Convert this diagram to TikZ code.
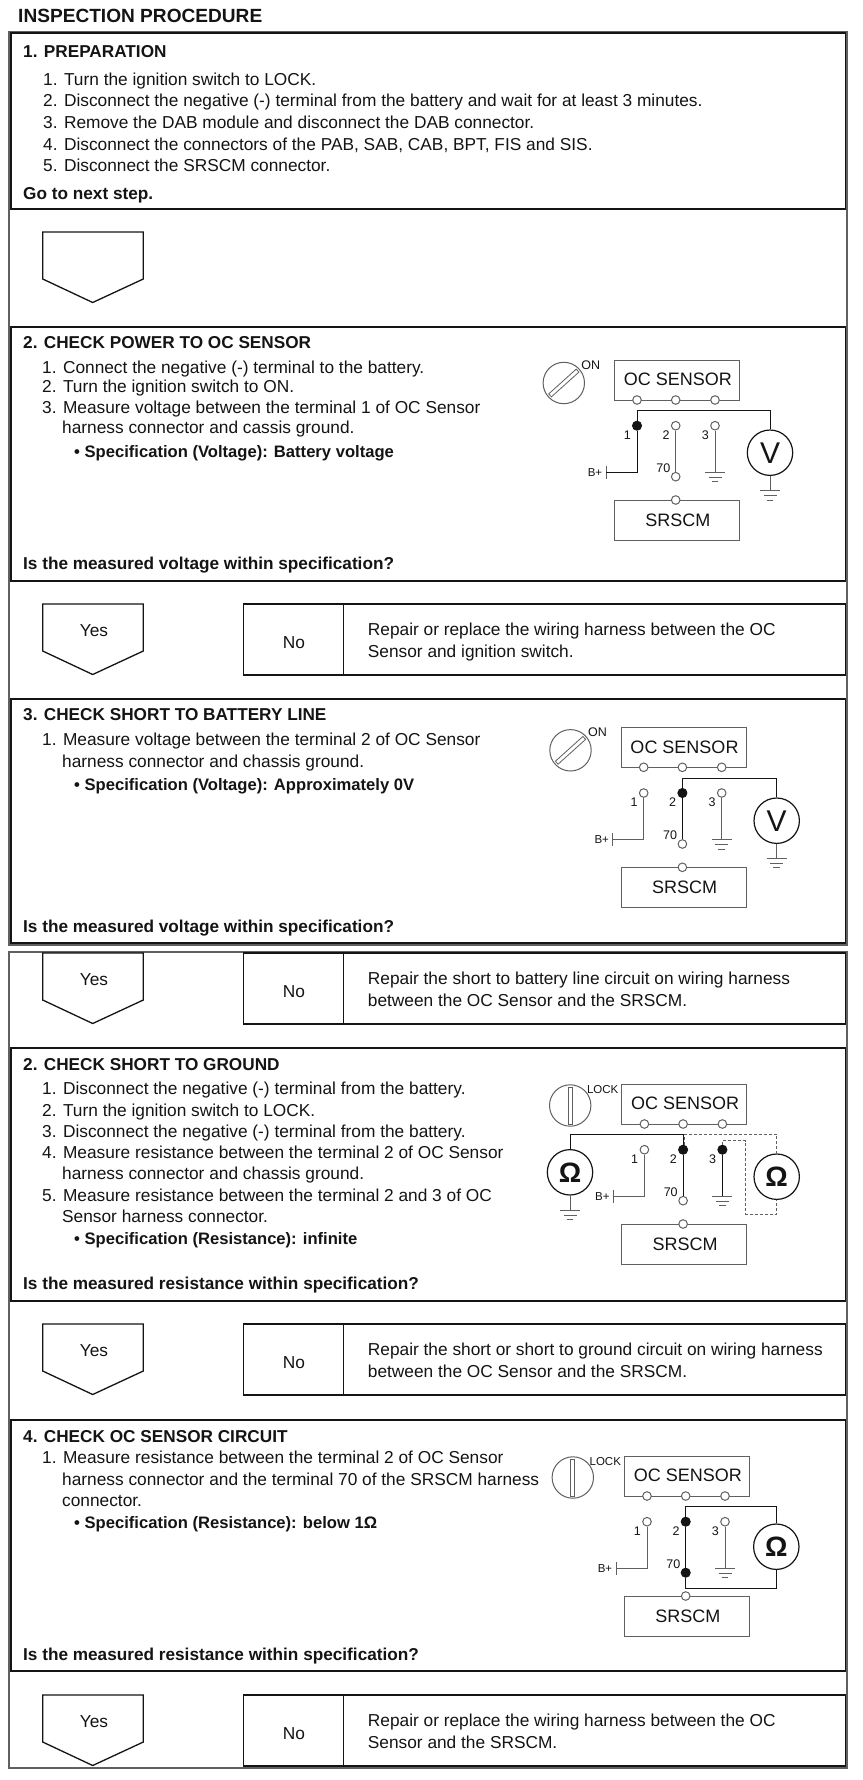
\documentclass[tikz,border=0pt]{standalone}
\usepackage{fontspec}
\setmainfont{Liberation Sans}
\usetikzlibrary{fit}
\definecolor{ink}{HTML}{141414}
\definecolor{wiregray}{HTML}{606060}
\tikzset{
  txt/.style={inner sep=0pt,anchor=base west,text=ink,font=\fontsize{17.3}{19}\selectfont},
  btxt/.style={txt,font=\fontsize{17.2}{19}\bfseries\selectfont},
  spectxt/.style={txt,font=\fontsize{16.6}{19}\bfseries\selectfont},
  ctxt/.style={inner sep=0pt,text=ink,font=\fontsize{17.3}{19}\selectfont},
  frameline/.style={draw=wiregray,line width=1.3pt},
  secbox/.style={draw=ink,line width=1.8pt},
  arrowbox/.style={draw=ink,line width=1.3pt,line join=miter},
  nobox/.style={draw=ink,line width=1.6pt},
  wire/.style={draw=wiregray,line width=1pt},
  live/.style={draw=ink,line width=1pt},
  probe/.style={draw=wiregray,line width=.8pt,densely dashed},
  devbox/.style={draw=wiregray,line width=1pt},
  devtxt/.style={inner sep=0pt,text=ink,font=\fontsize{18}{20}\selectfont},
  small/.style={inner sep=0pt,text=ink,font=\fontsize{12.5}{14}\selectfont},
  openterm/.style={circle,draw=wiregray,fill=white,line width=1pt,inner sep=0pt,minimum size=8.6pt},
  fillterm/.style={circle,draw=ink,fill=ink,line width=1pt,inner sep=0pt,minimum size=9pt},
  meter/.style={circle,draw=ink,fill=white,line width=1.2pt,inner sep=0pt,minimum size=45.4pt,text=ink,font=\fontsize{30}{32}\selectfont},
  ohm/.style={meter,font=\fontsize{28}{32}\bfseries\selectfont},
  switchbody/.style={circle,draw=wiregray,line width=1pt,inner sep=0pt,minimum size=41.4pt},
  slot/.style={rectangle,draw=wiregray,line width=.8pt,inner sep=0pt,minimum width=37pt,minimum height=4pt},
}
% #1 name, #2 #3 top-left, #4 #5 bottom-right
\newcommand\RectNode[6][]{%
  \coordinate (#2-a) at (#3,#4); \coordinate (#2-b) at (#5,#6);
  \node[fit=(#2-a)(#2-b),inner sep=0pt,#1] (#2) {};}
\newcommand\Txt[4]{\node[txt] (#1) at (#2,#3) {#4};}
\newcommand\Btxt[4]{\node[btxt] (#1) at (#2,#3) {#4};}
\newcommand\Stxt[4]{\node[spectxt] (#1) at (#2,#3) {#4};}
% yes pentagon: name, top y, text
\newcommand\Arrow[3]{%
  \draw[arrowbox] (42.7,#2) -- (143.3,#2) -- (143.3,#2+47) -- (92.7,#2+70.5) -- (42.7,#2+47) -- cycle;
  \node[ctxt] (#1) at (94,#2+27) {#3};}
% no box: name, top y, bottom y, line 1, line 2
\newcommand\NoBox[5]{%
  \RectNode[nobox]{#1-box}{243.3}{#2}{845.5}{#3}
  \coordinate (#1-dt) at (343.3,#2); \coordinate (#1-db) at (343.3,#3);
  \draw[nobox] (#1-dt) -- (#1-db);
  \node[ctxt] (#1-no) at (294,#2+38.7) {No};
  \node[txt] (#1-l1) at (367.7,#2+31) {#4};
  \node[txt] (#1-l2) at (367.7,#2+53) {#5};}
\newcommand\Gnd[1]{%
  \coordinate (#1-l) at ([xshift=-10pt]#1); \coordinate (#1-r) at ([xshift=10pt]#1);
  \draw[wire] (#1-l) -- (#1-r);
  \draw[wire] ([shift={(-6.5pt,-5pt)}]#1) -- ([shift={(6.5pt,-5pt)}]#1);
  \draw[wire] ([shift={(-3.3pt,-9.5pt)}]#1) -- ([shift={(3.3pt,-9.5pt)}]#1);}
% common circuit, relative to the top-left of OC SENSOR box; #1..#4 terminal styles 1,2,3,70
\newcommand\CircuitBase[4]{%
  \RectNode[devbox]{oc}{0}{0}{125}{40}
  \node[devtxt] (octxt) at (63.5,19.5) {OC SENSOR};
  \RectNode[devbox]{srs}{0}{140}{125}{180}
  \node[devtxt] (srstxt) at (63.5,160) {SRSCM};
  \node[openterm] (t1) at (22.7,40) {};
  \node[openterm] (t2) at (61.4,40) {};
  \node[openterm] (t3) at (100.7,40) {};
  \node[openterm] (t4) at (61.4,140) {};
  \node[#1] (j1) at (22.7,65.7) {};
  \node[#2] (j2) at (61.4,65.7) {};
  \node[#3] (j3) at (100.7,65.7) {};
  \node[#4] (j70) at (61.4,116.7) {};
  \node[small] (n1) at (13,75) {1};
  \node[small] (n2) at (51.7,75) {2};
  \node[small] (n3) at (91,75) {3};
  \node[small] (n70) at (49,108.3) {70};
  \node[small,font=\fontsize{11.5}{13}\selectfont] (bp) at (-19.3,112.5) {B+};
  \coordinate (bk) at (22.7,112.3);
  \coordinate (bb) at (-8.3,112.3);
  \coordinate (bbt) at (-8.3,106); \coordinate (bbb) at (-8.3,119);
  \coordinate (g3) at (100.7,112.3);
  \draw[wire] (bbt) -- (bbb);
  \Gnd{g3}
}
\newcommand\OnSwitch{%
  \node[switchbody] (sw) at (-50.5,23) {};
  \node[slot,rotate=42] (swslot) at (-50.5,23) {};
  \node[small] (swl) at (-23.5,5.2) {ON};}
\newcommand\LockSwitch{%
  \node[switchbody] (sw) at (-51.5,21.5) {};
  \node[slot,rotate=90] (swslot) at (-51.5,21.5) {};
  \node[small,font=\fontsize{11.5}{13}\selectfont] (swl) at (-19,6) {LOCK};}
\begin{document}
\begin{tikzpicture}[x=1pt,y=-1pt]
\useasboundingbox (0,0) rectangle (862,1780);
\fill[white] (0,0) rectangle (862,1780);

\node[btxt,font=\fontsize{19.1}{21}\bfseries\selectfont] (title) at (18,23) {INSPECTION PROCEDURE};

% frames
\RectNode[frameline]{frameA}{9}{32}{847}{945}
\RectNode[frameline]{frameB}{9}{952}{847}{1768}

% --- section 1
\RectNode[secbox]{s1}{11}{33}{845.5}{209}
\Btxt{s1h}{23}{57}{1. PREPARATION}
\Txt{s1a}{43}{85}{1. Turn the ignition switch to LOCK.}
\Txt{s1b}{43}{106}{2. Disconnect the negative (-) terminal from the battery and wait for at least 3 minutes.}
\Txt{s1c}{43}{128}{3. Remove the DAB module and disconnect the DAB connector.}
\Txt{s1d}{43}{150}{4. Disconnect the connectors of the PAB, SAB, CAB, BPT, FIS and SIS.}
\Txt{s1e}{43}{171}{5. Disconnect the SRSCM connector.}
\Btxt{s1f}{23}{199}{Go to next step.}
\Arrow{a1}{232}{}

% --- section 2
\RectNode[secbox]{s2}{11}{327}{845.5}{581}
\Btxt{s2h}{23}{348}{2. CHECK POWER TO OC SENSOR}
\Txt{s2a}{42}{373}{1. Connect the negative (-) terminal to the battery.}
\Txt{s2b}{42}{392}{2. Turn the ignition switch to ON.}
\Txt{s2c}{42}{413}{3. Measure voltage between the terminal 1 of OC Sensor}
\Txt{s2d}{62}{433}{harness connector and cassis ground.}
\Stxt{s2e}{74}{457}{• Specification (Voltage): Battery voltage}
\Btxt{s2f}{23}{569}{Is the measured voltage within specification?}
\Arrow{a2}{604}{Yes}
\NoBox{n2}{604}{675}{Repair or replace the wiring harness between the OC}{Sensor and ignition switch.}

\begin{scope}[shift={(614.3,360)},name prefix=dA-]
  \CircuitBase{fillterm}{openterm}{openterm}{openterm}
  \OnSwitch
  \node[meter] (m) at (155.7,92.7) {V};
  \coordinate (top) at (22.7,50);
  \coordinate (mg) at (155.7,130.5);
  \draw[live] (j1) -- (top) -| (m);
  \draw[live] (j1) |- (bb);
  \draw[wire] (j2) -- (j70);
  \draw[wire] (j3) -- (g3);
  \draw[wire] (m) -- (mg);
  \Gnd{mg}
\end{scope}

% --- section 3
\RectNode[secbox]{s3}{11}{699}{845.5}{943}
\Btxt{s3h}{23}{720}{3. CHECK SHORT TO BATTERY LINE}
\Txt{s3a}{42}{745}{1. Measure voltage between the terminal 2 of OC Sensor}
\Txt{s3b}{62}{767}{harness connector and chassis ground.}
\Stxt{s3c}{74}{790}{• Specification (Voltage): Approximately 0V}
\Btxt{s3f}{23}{932}{Is the measured voltage within specification?}

\begin{scope}[shift={(621,727.3)},name prefix=dB-]
  \CircuitBase{openterm}{fillterm}{openterm}{openterm}
  \OnSwitch
  \node[meter] (m) at (155.7,93.4) {V};
  \coordinate (top) at (61.4,50.7);
  \coordinate (mg) at (155.7,131);
  \draw[live] (j2) -- (top) -| (m);
  \draw[wire] (j1) |- (bb);
  \draw[live] (j2) -- (j70);
  \draw[wire] (j3) -- (g3);
  \draw[wire] (m) -- (mg);
  \Gnd{mg}
\end{scope}

\Arrow{a3}{953}{Yes}
\NoBox{n3}{953}{1024}{Repair the short to battery line circuit on wiring harness}{between the OC Sensor and the SRSCM.}

% --- section 4
\RectNode[secbox]{s4}{11}{1048}{845.5}{1301}
\Btxt{s4h}{23}{1070}{2. CHECK SHORT TO GROUND}
\Txt{s4a}{42}{1094}{1. Disconnect the negative (-) terminal from the battery.}
\Txt{s4b}{42}{1116}{2. Turn the ignition switch to LOCK.}
\Txt{s4c}{42}{1137}{3. Disconnect the negative (-) terminal from the battery.}
\Txt{s4d}{42}{1158}{4. Measure resistance between the terminal 2 of OC Sensor}
\Txt{s4e}{62}{1179}{harness connector and chassis ground.}
\Txt{s4f}{42}{1201}{5. Measure resistance between the terminal 2 and 3 of OC}
\Txt{s4g}{62}{1222}{Sensor harness connector.}
\Stxt{s4k}{74}{1244}{• Specification (Resistance): infinite}
\Btxt{s4m}{23}{1289}{Is the measured resistance within specification?}

\begin{scope}[shift={(621.7,1084)},name prefix=dC-]
  \CircuitBase{openterm}{fillterm}{fillterm}{openterm}
  \LockSwitch
  \node[ohm] (m) at (-51.7,88.3) {Ω};
  \node[ohm] (mr) at (155,92.7) {Ω};
  \coordinate (top) at (61.4,50.3);
  \coordinate (topl) at (-51.7,50.3);
  \coordinate (mg) at (-51.7,126);
  \coordinate (pa) at (62.8,50.3);
  \coordinate (pa0) at (62.8,61);
  \coordinate (pb) at (100.7,56.7);
  \coordinate (pc) at (124,56.7);
  \coordinate (pd) at (124,130.3);
  \coordinate (pe) at (155,130.3);
  \coordinate (pf) at (155,50.3);
  \draw[live] (j2) -- (top) -- (topl) -- (m);
  \draw[wire] (j1) |- (bb);
  \draw[live] (j2) -- (j70);
  \draw[live] (j3) -- (g3);
  \draw[wire] (m) -- (mg);
  \Gnd{mg}
  \draw[probe] (pa0) -- (pa) -- (pf) -- (mr);
  \draw[probe] (j3) -- (pb) -- (pc) -- (pd) -- (pe) -- (mr);
\end{scope}

\Arrow{a4}{1324}{Yes}
\NoBox{n4}{1324}{1395}{Repair the short or short to ground circuit on wiring harness}{between the OC Sensor and the SRSCM.}

% --- section 5
\RectNode[secbox]{s5}{11}{1420}{845.5}{1671}
\Btxt{s5h}{23}{1442}{4. CHECK OC SENSOR CIRCUIT}
\Txt{s5a}{42}{1463}{1. Measure resistance between the terminal 2 of OC Sensor}
\Txt{s5b}{62}{1485}{harness connector and the terminal 70 of the SRSCM harness}
\Txt{s5c}{62}{1506}{connector.}
\Stxt{s5d}{74}{1528}{• Specification (Resistance): below 1Ω}
\Btxt{s5m}{23}{1660}{Is the measured resistance within specification?}

\begin{scope}[shift={(624.3,1456)},name prefix=dD-]
  \CircuitBase{openterm}{fillterm}{openterm}{fillterm}
  \LockSwitch
  \node[ohm] (m) at (152,90.7) {Ω};
  \coordinate (top) at (61.4,50);
  \coordinate (topr) at (152,50);
  \coordinate (bot) at (61.4,132.3);
  \coordinate (botr) at (152,132.3);
  \draw[live] (j2) -- (top) -- (topr) -- (m);
  \draw[live] (j70) -- (bot) -- (botr) -- (m);
  \draw[wire] (j1) |- (bb);
  \draw[live] (j2) -- (j70);
  \draw[wire] (j3) -- (g3);
\end{scope}

\Arrow{a5}{1695}{Yes}
\NoBox{n5}{1695}{1766}{Repair or replace the wiring harness between the OC}{Sensor and the SRSCM.}
\end{tikzpicture}
\end{document}
